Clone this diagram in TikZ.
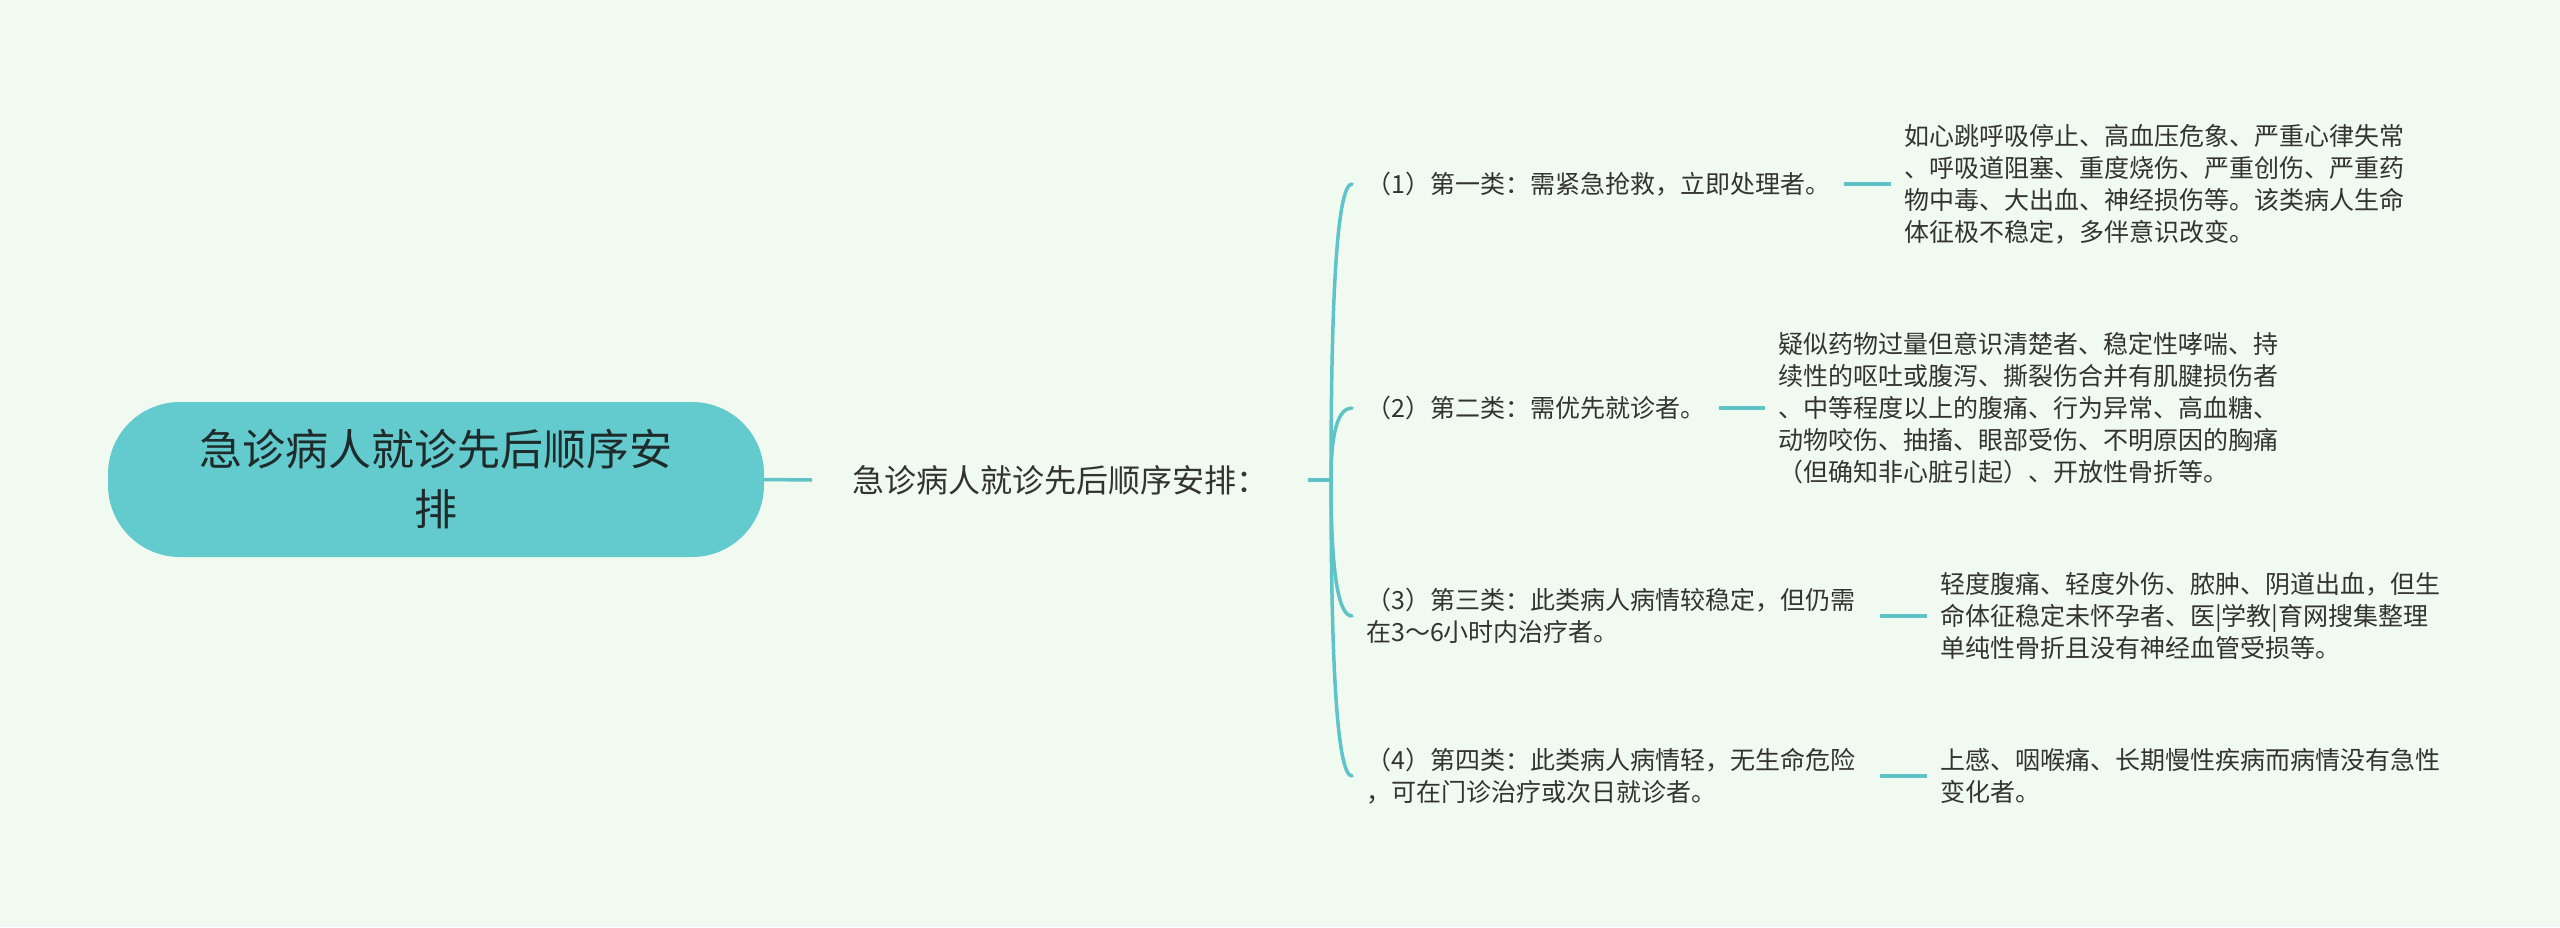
\documentclass[tikz,border=0pt]{standalone}
\usepackage{fontspec}
\setmainfont{Noto Sans CJK SC}
\usetikzlibrary{calc}
\definecolor{bgC}{HTML}{F1FAF0}
\definecolor{rootC}{HTML}{63CACD}
\definecolor{lineC}{HTML}{5EC4C8}
\definecolor{txtC}{HTML}{333333}
\definecolor{rootTxt}{HTML}{1F2A2A}
\begin{document}
\begin{tikzpicture}[x=1pt,y=-1pt,
  conn/.style={draw=lineC, line width=3.5pt},
  rootbox/.style={fill=rootC, rounded corners=72pt, minimum width=656pt, minimum height=155pt,
    inner sep=0pt, align=center, font=\fontsize{43}{60}\selectfont, text=rootTxt},
  subbox/.style={inner xsep=40pt, inner ysep=0pt, font=\fontsize{32}{40}\selectfont, text=txtC, anchor=west},
  branch/.style={inner xsep=14pt, inner ysep=0pt, font=\fontsize{25}{32}\selectfont, text=txtC,
    anchor=west, align=left},
  leaf/.style={inner xsep=13pt, inner ysep=0pt, font=\fontsize{25}{32}\selectfont, text=txtC,
    anchor=west, align=left}]
\fill[bgC] (0,0) rectangle (2560,927);
\useasboundingbox (0,0) rectangle (2560,927);

\node[rootbox] (root) at (436,479.5) {急诊病人就诊先后顺序安\\排};
\node[subbox] (sub) at (812,480) {急诊病人就诊先后顺序安排：};
\coordinate (j) at (1331,480);

\node[branch] (b1) at (1352,184) {（1）第一类：需紧急抢救，立即处理者。};
\node[branch] (b2) at (1352,408) {（2）第二类：需优先就诊者。};
\node[branch, text width=500pt] (b3) at (1352,616) {（3）第三类：此类病人病情较稳定，但仍需\\在3～6小时内治疗者。};
\node[branch, text width=500pt] (b4) at (1352,776) {（4）第四类：此类病人病情轻，无生命危险\\，可在门诊治疗或次日就诊者。};

\node[leaf] (l1) at (1891,184) {如心跳呼吸停止、高血压危象、严重心律失常\\、呼吸道阻塞、重度烧伤、严重创伤、严重药\\物中毒、大出血、神经损伤等。该类病人生命\\体征极不稳定，多伴意识改变。};
\node[leaf] (l2) at (1765,408) {疑似药物过量但意识清楚者、稳定性哮喘、持\\续性的呕吐或腹泻、撕裂伤合并有肌腱损伤者\\、中等程度以上的腹痛、行为异常、高血糖、\\动物咬伤、抽搐、眼部受伤、不明原因的胸痛\\（但确知非心脏引起）、开放性骨折等。};
\node[leaf] (l3) at (1927,616) {轻度腹痛、轻度外伤、脓肿、阴道出血，但生\\命体征稳定未怀孕者、医|学教|育网搜集整理\\单纯性骨折且没有神经血管受损等。};
\node[leaf] (l4) at (1927,776) {上感、咽喉痛、长期慢性疾病而病情没有急性\\变化者。};

\draw[conn] (root.east) -- (sub.west);
\draw[conn] (sub.east) -- (j);
\foreach \i in {1,2,3,4}{
  \coordinate (c\i) at (j |- b\i.west);
  \draw[conn, line cap=round] (j) .. controls ($(j)!0.6667!(c\i)$) and ($(b\i.west)!0.6667!(c\i)$) .. (b\i.west);
  \draw[conn] (b\i.east) -- (l\i.west);
}
\end{tikzpicture}
\end{document}
